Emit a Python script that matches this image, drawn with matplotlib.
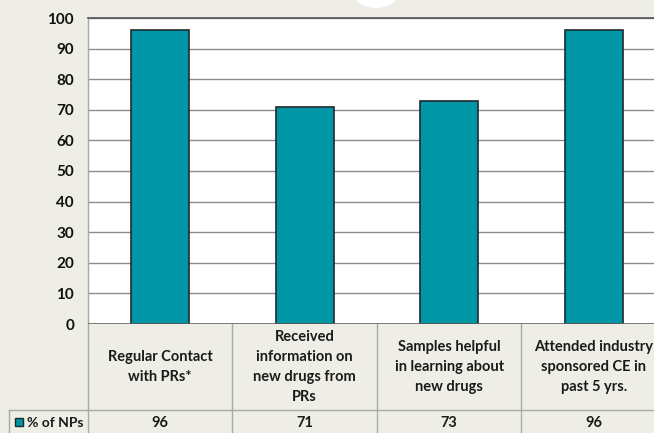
import matplotlib
matplotlib.use("Agg")
import matplotlib.pyplot as plt
from matplotlib.transforms import blended_transform_factory
from matplotlib.patches import Rectangle, Ellipse

categories = ["Regular Contact\nwith PRs*",
              "Received\ninformation on\nnew drugs from\nPRs",
              "Samples helpful\nin learning about\nnew drugs",
              "Attended industry\nsponsored CE in\npast 5 yrs."]
values = [96, 71, 73, 96]
value_labels = ["96", "71", "73", "96"]
series_name = "% of NPs"
yticks = list(range(0, 101, 10))

BG = "#EFEEE6"
TEAL = "#0096A5"
EDGE = "#1E2A2E"
GRID = "#8C8C8C"
TLINE = "#A8A8A4"
FONT = "Lato"
FS = 10.5

W, H = 654, 433
fig = plt.figure(figsize=(W / 100, H / 100), dpi=100, facecolor=BG)

# white circle decoration at top
fig.patches.append(Ellipse((376 / W, 1 + 22 / H), 2 * 30 / W, 2 * 30 / H,
                           transform=fig.transFigure, facecolor="white",
                           edgecolor="none", zorder=0))

left, right, top, bot = 88, 666, 18, 324
ax = fig.add_axes([left / W, 1 - bot / H, (right - left) / W, (bot - top) / H])
ax.set_facecolor("white")
x = list(range(len(values)))
ax.bar(x, values, width=0.4, color=TEAL, edgecolor=EDGE, linewidth=1.2, zorder=3)
ax.set_xlim(-0.5, 3.5)
ax.set_ylim(0, 100)
ax.set_yticks(yticks)
ax.set_yticklabels([str(t) for t in yticks], fontfamily=FONT, fontweight="bold",
                   fontsize=11, color="#111111")
ax.tick_params(axis="y", length=0, pad=10)
ax.set_xticks([])
ax.yaxis.grid(True, color=GRID, linewidth=1.0, zorder=0)
ax.set_axisbelow(True)
for s in ["right", "bottom"]:
    ax.spines[s].set_visible(False)
ax.spines["left"].set_color(TLINE)
ax.spines["left"].set_linewidth(1.0)
ax.spines["top"].set_color("#555555")
ax.spines["top"].set_linewidth(1.2)
ax.axhline(0, color="#666666", linewidth=1.2, zorder=4)

# data table below the axes
ah = bot - top
def yf(py):
    return (bot - py) / ah

tr = blended_transform_factory(ax.transData, ax.transAxes)
row1_bot = yf(410)
row2_bot = yf(440)
for xb in [-0.5, 0.5, 1.5, 2.5, 3.5]:
    ax.plot([xb, xb], [0, row2_bot], transform=tr, color=TLINE, linewidth=1.0, clip_on=False)
ax.plot([-0.5 - 79 / 144.5, 3.5], [row1_bot, row1_bot], transform=tr, color=TLINE,
        linewidth=1.0, clip_on=False)
ax.plot([-0.5 - 79 / 144.5] * 2, [row1_bot, row2_bot], transform=tr, color=TLINE,
        linewidth=1.0, clip_on=False)

for xi, cat, vl in zip(x, categories, value_labels):
    ax.text(xi, yf(367), cat, transform=tr, ha="center", va="center", fontfamily=FONT,
            fontweight="bold", fontsize=FS, color="#1a1a1a", linespacing=1.55, clip_on=False)
    ax.text(xi, yf(423), vl, transform=tr, ha="center", va="center", fontfamily=FONT,
            fontweight="bold", fontsize=FS, color="#1a1a1a", clip_on=False)

# legend key in row label
fig.patches.append(Rectangle((15 / W, 1 - 426 / H), 8 / W, 8 / H, transform=fig.transFigure,
                             facecolor=TEAL, edgecolor=EDGE, linewidth=1.0))
fig.text(27 / W, 1 - 423 / H, series_name, ha="left", va="center", fontfamily=FONT,
         fontweight="bold", fontsize=10, color="#1a1a1a")

fig.savefig("out.png", dpi=100, facecolor=BG)
